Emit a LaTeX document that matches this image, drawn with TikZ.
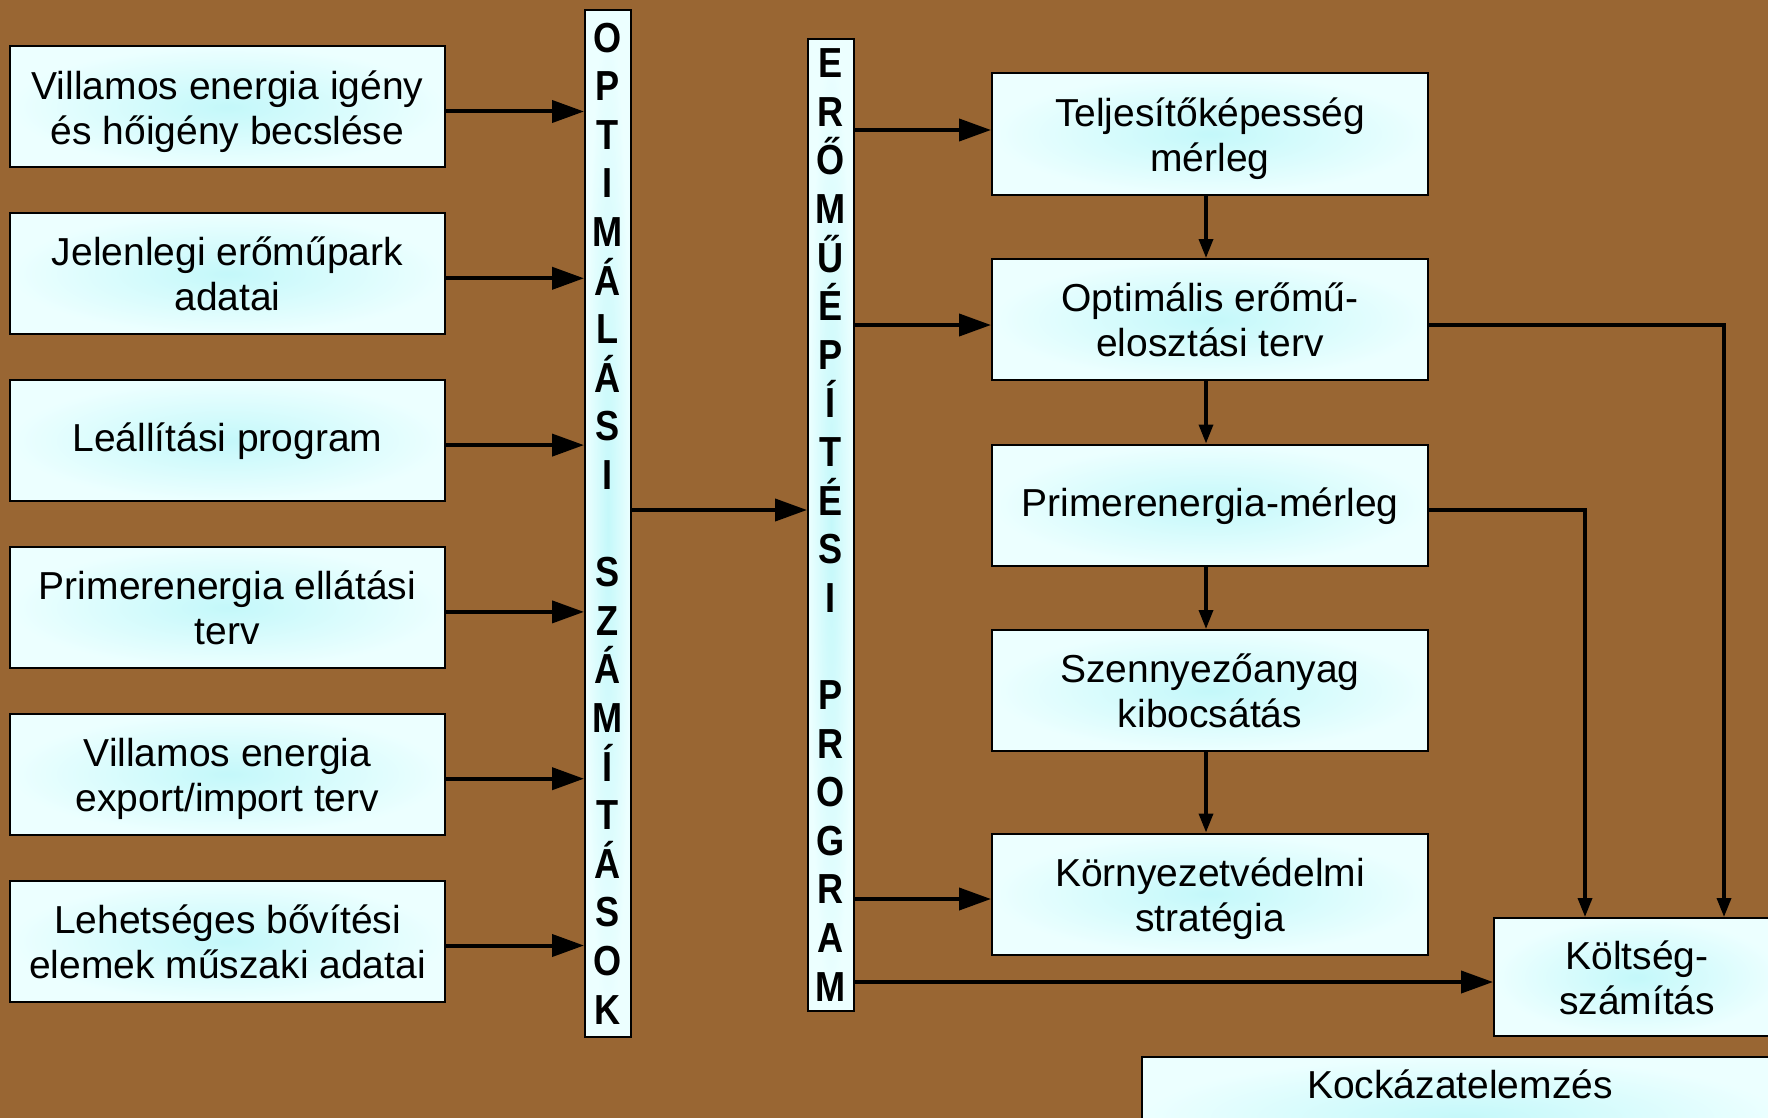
\documentclass[tikz,border=0pt]{standalone}
\usepackage{fontspec}
\setmainfont{Liberation Sans}
\newfontfamily\barfont[FakeStretch=0.86]{Liberation Sans Bold}
\usetikzlibrary{arrows.meta,calc}

\definecolor{bgbrown}{RGB}{153,102,51}
\definecolor{boxin}{RGB}{196,248,250}
\definecolor{boxout}{RGB}{236,255,255}

% centred lines of box text, set a little below the box middle
\newcommand\boxlines[2][11.3pt]{\raisebox{0pt}[\dimexpr\height+#1\relax][\depth]{\begin{tabular}{@{}c@{}}#2\end{tabular}}}

\tikzset{
  box/.style={draw=black, line width=2pt, shading=radial, inner color=boxin, outer color=boxout,
    minimum width=435pt, minimum height=121pt, inner sep=0pt,
    font=\fontsize{39}{45}\selectfont},
  bar/.style={draw=black, line width=2pt, shading=radial, inner color=boxin, outer color=boxout,
    minimum width=46pt, inner sep=0pt, align=center,
    font=\barfont\fontsize{42}{48.6}\selectfont},
  bigarrow/.style={line width=4pt, -{Triangle[length=32pt,width=22pt]}},
  smallarrow/.style={line width=3.5pt, -{Triangle[length=19pt,width=14pt]}},
  txt/.style={inner sep=0pt, font=\fontsize{39}{45}\selectfont},
}

\begin{document}
\begin{tikzpicture}[x=1pt,y=-1pt]
  \useasboundingbox (0,0) rectangle (1768,1118);
  \clip (0,0) rectangle (1768,1118);
  \fill[bgbrown] (0,0) rectangle (1768,1118);

  % input data boxes
  \node[box] (v1) at (227.5,107)   {\boxlines{Villamos energia igény\\és hőigény becslése}};
  \node[box] (v2) at (227.5,273.8) {\boxlines{Jelenlegi erőműpark\\adatai}};
  \node[box] (v3) at (227.5,440.6) {\boxlines[4.5pt]{Leállítási program}};
  \node[box] (v4) at (227.5,607.4) {\boxlines{Primerenergia ellátási\\terv}};
  \node[box] (v5) at (227.5,774.2) {\boxlines{Villamos energia\\export/import terv}};
  \node[box] (v6) at (227.5,941)   {\boxlines{Lehetséges bővítési\\elemek műszaki adatai}};

  % vertical program bars
  \node[bar, minimum height=1027pt] (opt) at (608,523.5)
    {O\\P\\T\\I\\M\\Á\\L\\Á\\S\\I\\~\\S\\Z\\Á\\M\\Í\\T\\Á\\S\\O\\K};
  \node[bar, minimum height=971pt] (ero) at (831,525)
    {E\\R\\Ő\\M\\Ű\\É\\P\\Í\\T\\É\\S\\I\\~\\P\\R\\O\\G\\R\\A\\M};

  % result boxes
  \node[box, minimum width=436pt] (t) at (1210,134)   {\boxlines{Teljesítőképesség\\mérleg}};
  \node[box, minimum width=436pt] (o) at (1210,319.5) {\boxlines{Optimális erőmű-\\elosztási terv}};
  \node[box, minimum width=436pt] (p) at (1210,505)   {\boxlines[4.5pt]{Primerenergia-mérleg}};
  \node[box, minimum width=436pt] (s) at (1210,690.5) {\boxlines{Szennyezőanyag\\kibocsátás}};
  \node[box, minimum width=436pt] (k) at (1210,894)   {\boxlines{Környezetvédelmi\\stratégia}};
  \node[box, minimum width=286pt, minimum height=118pt] (kolt) at (1637,977) {\boxlines{Költség-\\számítás}};
  \node[box, minimum width=640pt, minimum height=121pt, anchor=north west] (kock) at (1141,1056) {};
  \node[txt] (kocktext) at (1460,1084) {Kockázatelemzés};

  % inputs into the optimisation bar
  \foreach \i in {1,...,6}
    \draw[bigarrow] ([yshift=-4.5pt]v\i.east) -- ([yshift=-4.5pt]v\i.east -| opt.west);

  % optimisation -> power plant program
  \draw[bigarrow] ([yshift=13.5pt]opt.east) -- ([yshift=13.5pt]opt.east -| ero.west);

  % program -> results
  \draw[bigarrow] ([yshift=4pt]t.west -| ero.east) -- ([yshift=4pt]t.west);
  \draw[bigarrow] ([yshift=-5.5pt]o.west -| ero.east) -- ([yshift=-5.5pt]o.west);
  \draw[bigarrow] ([yshift=-5pt]k.west -| ero.east) -- ([yshift=-5pt]k.west);
  \draw[bigarrow] ([yshift=-5pt]kolt.west -| ero.east) -- ([yshift=-5pt]kolt.west);

  % chain of result boxes
  \draw[smallarrow] ([xshift=-4pt]t.south) -- ([xshift=-4pt]o.north);
  \draw[smallarrow] ([xshift=-4pt]o.south) -- ([xshift=-4pt]p.north);
  \draw[smallarrow] ([xshift=-4pt]p.south) -- ([xshift=-4pt]s.north);
  \draw[smallarrow] ([xshift=-4pt]s.south) -- ([xshift=-4pt]k.north);

  % feeds into cost calculation
  \draw[smallarrow] ([yshift=-5.5pt]o.east) -| ([xshift=87pt]kolt.north);
  \draw[smallarrow] ([yshift=-5pt]p.east) -| ([xshift=-52pt]kolt.north);
\end{tikzpicture}
\end{document}
